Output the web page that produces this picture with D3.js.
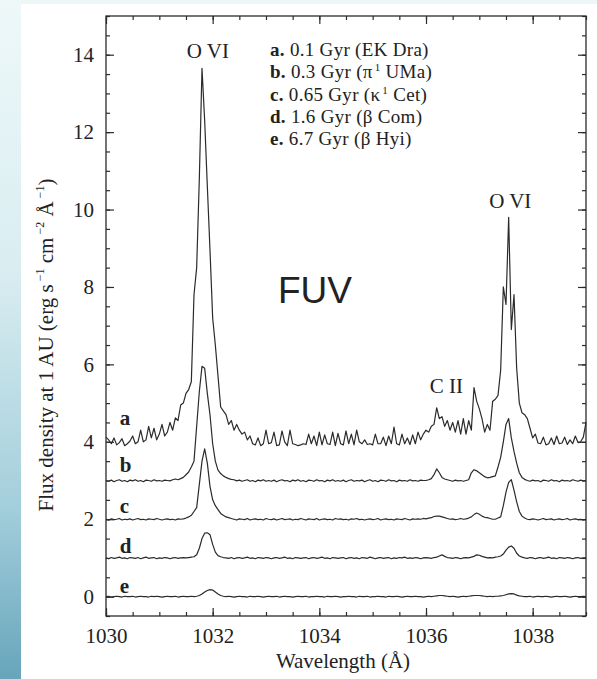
<!DOCTYPE html>
<html>
<head>
<meta charset="utf-8">
<script src="https://cdn.jsdelivr.net/npm/d3@7"></script>
<style>
  body { margin: 0; background: #fff; }
  svg { display: block; }
</style>
</head>
<body>
<div id="chart"></div>
<script>
const W = 597, H = 679;
const margin = {top: 16, right: 11, bottom: 63, left: 106},
      width = W - margin.left - margin.right,
      height = H - margin.top - margin.bottom;

const serif = '"Liberation Serif", "Times New Roman", serif';
const ink = "#2b2b2b";

// spectra sampled every 0.05 A from 1030.00 to 1039.00 (offsets already included)
const waveStart = 1030, waveStep = 0.05;

const specA = [
  4.12, 4.05, 3.95, 4.1, 3.92, 3.98, 4.08, 3.9, 3.95, 4.02,
  4.15, 3.95, 4.0, 4.3, 4.0, 4.05, 4.4, 4.1, 4.35, 4.05,
  4.2, 4.45, 4.15, 4.25, 4.5, 4.3, 4.62, 4.55, 4.95, 5.0,
  5.25, 5.35, 5.55, 7.8, 8.5, 10.8, 13.65, 12.3, 10.6, 8.95,
  7.2, 6.5, 5.7, 4.9, 4.8, 4.7, 4.45, 4.55, 4.3, 4.45,
  4.3, 4.2, 4.25, 4.05, 4.15, 3.95, 3.92, 4.1, 3.9, 3.95,
  4.3, 3.95, 3.98, 4.25, 3.9, 3.92, 4.28, 4.0, 3.9, 4.3,
  3.95, 3.93, 3.9, 3.92, 3.95, 3.93, 4.2, 3.95, 4.15, 3.9,
  4.25, 3.92, 4.18, 3.95, 3.93, 4.25, 3.9, 4.22, 3.95, 3.92,
  4.28, 3.95, 4.2, 3.92, 4.3, 4.0, 3.95, 4.05, 3.93, 3.95,
  3.92, 4.2, 3.95, 3.95, 4.12, 3.9, 4.15, 3.95, 4.38, 3.95,
  3.92, 4.2, 3.95, 4.1, 3.93, 4.18, 3.95, 4.25, 4.05, 4.2,
  4.3, 4.25, 4.4, 4.45, 4.88, 4.6, 4.65, 4.4, 4.55, 4.3,
  4.5, 4.25, 4.55, 4.2, 4.6, 4.2, 4.55, 4.3, 5.4, 5.05,
  4.85, 4.6, 4.25, 4.45, 4.3, 5.05, 5.1, 5.2, 5.85, 8.0,
  7.55, 9.8, 6.9, 7.8, 5.9, 5.0, 4.75, 4.7, 4.6, 4.35,
  4.1, 4.2, 3.97, 3.95, 4.12, 3.92, 3.95, 4.1, 3.93, 4.15,
  3.95, 3.97, 4.12, 3.93, 4.05, 3.95, 4.15, 3.98, 4.0, 4.12,
  4.5
];

const specB = [
  3.0, 2.98, 3.01, 2.97, 3.0, 3.02, 2.98, 3.0, 2.97, 3.01,
  2.99, 3.02, 2.98, 3.0, 2.97, 3.01, 3.0, 2.98, 3.02, 2.99,
  3.0, 2.98, 3.01, 3.0, 2.99, 3.02, 3.04, 3.02, 3.05,
  3.08, 3.15, 3.22, 3.35, 3.5, 4.4, 5.3, 5.95, 5.9, 5.25,
  4.7, 3.95, 3.5, 3.27, 3.18, 3.12, 3.08, 3.05, 3.03, 3.02,
  2.99, 3.01, 2.98, 3.0, 3.02, 2.98, 3.0, 2.97, 3.01, 2.99,
  3.02, 2.98, 3.0, 2.98, 3.01, 2.97, 3.0, 3.02, 2.99, 3.0,
  2.97, 3.01, 2.99, 3.02, 2.98, 3.0, 2.97, 3.01, 3.0, 2.98,
  3.02, 2.99, 3.0, 2.97, 3.01, 2.99, 3.02, 2.98, 3.0, 2.98,
  3.01, 2.97, 3.0, 3.02, 2.98, 3.0, 2.99, 3.01, 2.97, 3.0,
  3.02, 2.98, 3.0, 2.97, 3.01, 3.0, 2.98, 3.02, 2.99, 3.0,
  2.97, 3.01, 2.99, 3.0, 2.98, 3.02, 2.99, 3.0, 2.98, 3.01, 3.0,
  3.0, 3.02, 3.05, 3.15, 3.3, 3.2, 3.08, 3.04, 3.02, 3.0,
  2.98, 3.01, 2.99, 3.0, 2.98, 3.0, 3.02,
  3.2, 3.28, 3.25, 3.2, 3.15, 3.1, 3.07, 3.08, 3.1, 3.12,
  3.35, 3.6, 4.0, 4.45, 4.6, 4.1, 3.75, 3.45, 3.2, 3.08, 3.03,
  3.0, 2.98, 3.01, 2.99, 3.0, 2.97, 3.01, 3.0, 2.98, 3.02,
  2.99, 3.0, 2.97, 3.01, 2.99, 3.0, 2.98, 3.02, 3.0, 2.98,
  3.01, 2.99, 3.0
];

const specC = [
  2.0, 1.98, 2.01, 1.99, 2.0, 2.02, 1.98, 2.0, 1.99, 2.01,
  1.98, 2.0, 2.02, 1.99, 2.0, 1.98, 2.01, 2.0, 1.99, 2.02,
  2.0, 1.98, 2.0, 2.01, 1.99, 2.0, 1.98, 2.01, 2.0, 2.01,
  2.03, 2.06, 2.1, 2.2, 2.3, 2.9, 3.5, 3.82, 3.45, 2.85,
  2.5, 2.35, 2.25, 2.15, 2.1, 2.06, 2.04, 2.02,
  2.0, 1.98, 2.01, 2.0, 1.99, 2.02, 1.98, 2.0, 2.01, 1.99,
  2.0, 1.98, 2.02, 2.0, 1.99, 2.01, 1.98, 2.0, 2.02, 1.99,
  2.0, 2.01, 1.98, 2.0, 1.99, 2.02, 2.0, 1.98, 2.01, 2.0,
  1.99, 2.02, 1.98, 2.0, 2.01, 1.99, 2.0, 1.98, 2.02, 2.0,
  2.01, 1.99, 2.0, 1.98, 2.01, 2.0, 2.02, 1.99, 2.0, 1.98,
  2.0, 2.01, 1.99, 2.0, 2.02, 1.98, 2.0, 2.01, 1.99, 2.0,
  1.98, 2.01, 2.0, 1.99, 2.02, 2.0, 1.98, 2.01, 2.0, 2.01,
  2.0, 2.02, 2.01, 2.03,
  2.04, 2.07, 2.08, 2.08, 2.06, 2.04, 2.02,
  2.0, 2.01, 1.99, 2.0, 2.02, 2.0, 2.01, 2.03,
  2.06, 2.12, 2.16, 2.13, 2.08, 2.05, 2.04, 2.02, 2.0, 2.0, 2.03,
  2.06, 2.35, 2.7, 2.95, 3.02, 2.75, 2.45, 2.2, 2.08, 2.03,
  2.0, 1.99, 2.01, 2.0, 1.98, 2.0, 2.02, 1.99, 2.0, 2.01,
  1.98, 2.0, 2.01, 1.99, 2.0, 2.02, 1.98, 2.0, 2.01, 1.99,
  2.0, 1.98, 2.0
];

const specD = [
  1.0, 0.98, 1.01, 0.99, 1.0, 1.02, 0.99, 1.0, 0.98, 1.01,
  1.0, 0.99, 1.01, 0.98, 1.0, 1.02, 0.99, 1.0, 1.01, 0.98,
  1.0, 0.99, 1.01, 1.0, 0.98, 1.0, 1.01, 0.99, 1.0, 1.01,
  1.0, 1.01, 1.02,
  1.03, 1.08, 1.25, 1.5, 1.64, 1.65, 1.6, 1.35, 1.15, 1.06, 1.03, 1.01,
  1.0, 0.99, 1.01, 0.98, 1.0, 1.01, 0.99, 1.0, 1.02, 0.99,
  1.0, 0.98, 1.01, 1.0, 0.99, 1.01, 1.0, 0.98, 1.0, 1.01,
  0.99, 1.0, 1.02, 0.99, 1.0, 0.98, 1.01, 1.0, 0.99, 1.0,
  1.01, 0.98, 1.0, 1.01, 0.99, 1.0, 1.02, 0.99, 1.0, 0.98,
  1.01, 1.0, 0.99, 1.0, 1.01, 0.98, 1.0, 1.01, 0.99, 1.0,
  0.98, 1.01, 1.0, 0.99, 1.02, 1.0, 0.98, 1.0, 1.01, 0.99,
  1.0, 1.01, 0.98, 1.0, 0.99, 1.01, 1.0, 1.02, 0.99, 1.0,
  0.99, 1.01, 1.0, 0.98, 1.0, 1.01, 1.0, 0.99, 1.01, 1.02,
  1.05, 1.08, 1.04,
  1.01, 1.0, 0.99, 1.01, 1.0, 0.98, 1.0, 1.01, 1.0, 1.02,
  1.04, 1.08, 1.07, 1.04,
  1.02, 1.0, 1.01, 1.0, 1.02, 1.03,
  1.05, 1.1, 1.2, 1.28, 1.31, 1.25, 1.12, 1.05, 1.02,
  1.0, 0.99, 1.01, 1.0, 0.98, 1.0, 1.01, 0.99, 1.0, 1.02,
  0.99, 1.0, 0.98, 1.01, 1.0, 0.99, 1.01, 1.0, 0.98, 1.0,
  1.01, 0.99, 1.0, 1.0
];

const specE = [
  0.0, 0.01, -0.01, 0.0, 0.01, 0.0, -0.01, 0.01, 0.0, 0.0,
  0.01, -0.01, 0.0, 0.01, 0.0, 0.0, -0.01, 0.01, 0.0, 0.01,
  0.0, -0.01, 0.0, 0.01, 0.0, 0.0, 0.01, -0.01, 0.0, 0.01,
  0.0, 0.0, 0.01, 0.0,
  0.01, 0.03, 0.07, 0.12, 0.16, 0.18, 0.17, 0.12, 0.07, 0.03, 0.01,
  0.0, 0.01, 0.0, -0.01, 0.0, 0.01, 0.0, 0.0, -0.01, 0.01,
  0.0, 0.0, 0.01, 0.0, -0.01, 0.0, 0.01, 0.0, 0.0, 0.01,
  -0.01, 0.0, 0.01, 0.0, 0.0, -0.01, 0.0, 0.01, 0.0, 0.0,
  0.01, -0.01, 0.0, 0.0, 0.01, 0.0, 0.0, -0.01, 0.01, 0.0,
  0.0, 0.01, 0.0, -0.01, 0.0, 0.0, 0.01, 0.0, 0.0, -0.01,
  0.01, 0.0, 0.0, 0.01, -0.01, 0.0, 0.0, 0.01, 0.0, 0.0,
  -0.01, 0.01, 0.0, 0.0, 0.01, 0.0, -0.01, 0.0, 0.01, 0.0,
  0.0, 0.01, 0.0, 0.0, -0.01, 0.0, 0.01, 0.0, 0.01, 0.02,
  0.03, 0.03, 0.02, 0.01,
  0.0, 0.01, 0.0, -0.01, 0.0, 0.01, 0.0, 0.01, 0.02,
  0.03, 0.03, 0.03, 0.02, 0.01,
  0.0, 0.01, 0.0, 0.01, 0.01, 0.02,
  0.03, 0.05, 0.07, 0.08, 0.07, 0.04, 0.02,
  0.01, 0.0, 0.0, 0.01, -0.01, 0.0, 0.01, 0.0, 0.0, 0.01,
  0.0, -0.01, 0.0, 0.01, 0.0, 0.0, 0.01, 0.0, -0.01, 0.0,
  0.01, 0.0, 0.0, 0.01, 0.0
];

const spectra = [specA, specB, specC, specD, specE];
const specNames = ["a", "b", "c", "d", "e"];
const specLabelAt = [4.43, 3.22, 2.16, 1.13, 0.1];   // flux where the letter sits

const legendKeys = ["a.", "b.", "c.", "d.", "e."];
const legendAges = ["0.1 Gyr", "0.3 Gyr", "0.65 Gyr", "1.6 Gyr", "6.7 Gyr"];
const legendStars = [["EK Dra"], ["\u03c0", "1", " UMa"], ["\u03ba", "1", " Cet"], ["\u03b2 Com"], ["\u03b2 Hyi"]];

const lineIds = ["O VI", "O VI", "C II"];
const lineIdWave = [1031.91, 1037.58, 1036.38];
const lineIdFlux = [13.92, 10.05, 5.25];

const xMajor = [1030, 1032, 1034, 1036, 1038];
const yMajor = [0, 2, 4, 6, 8, 10, 12, 14];

// page
const page = d3.select("#chart").append("svg")
  .attr("width", W)
  .attr("height", H);

const grad = page.append("defs").append("linearGradient")
  .attr("id", "side")
  .attr("x1", 0).attr("y1", 0).attr("x2", 0).attr("y2", 1);
grad.append("stop").attr("offset", "0%").attr("stop-color", "#eef8f9");
grad.append("stop").attr("offset", "40%").attr("stop-color", "#d9edf1");
grad.append("stop").attr("offset", "75%").attr("stop-color", "#a3cedb");
grad.append("stop").attr("offset", "100%").attr("stop-color", "#67a5bb");

page.append("rect").attr("width", W).attr("height", H).attr("fill", "#eef7f8");
page.append("rect").attr("width", 21).attr("height", H).attr("fill", "url(#side)");
page.append("rect").attr("x", 21).attr("y", 4).attr("width", W - 21).attr("height", H - 4).attr("fill", "#fff");

const svg = page.append("g")
  .attr("transform", `translate(${margin.left},${margin.top})`);

const x = d3.scaleLinear().domain([1030, 1039]).range([0, width]);
const y = d3.scaleLinear().domain([-0.5, 15]).range([height, 0]);

const xMinor = d3.range(1030, 1039.001, 0.5);
const yMinor = d3.range(-0.5, 15.001, 0.5);

function styleAxis(g) {
  g.select(".domain").remove();
  g.selectAll(".tick line").attr("stroke", ink).attr("stroke-width", 1.2);
  g.selectAll("text")
    .attr("fill", "#222")
    .style("font-family", serif)
    .style("font-size", "21px");
}

// bottom / top
svg.append("g").attr("transform", `translate(0,${height})`)
  .call(d3.axisBottom(x).tickValues(xMinor).tickSize(-4).tickFormat(""))
  .call(styleAxis);
svg.append("g").attr("transform", `translate(0,${height})`)
  .call(d3.axisBottom(x).tickValues(xMajor).tickSize(-8).tickPadding(12).tickFormat(d3.format("d")))
  .call(styleAxis);
svg.append("g")
  .call(d3.axisTop(x).tickValues(xMinor).tickSize(-4).tickFormat(""))
  .call(styleAxis);
svg.append("g")
  .call(d3.axisTop(x).tickValues(xMajor).tickSize(-8).tickFormat(""))
  .call(styleAxis);

// left / right
svg.append("g")
  .call(d3.axisLeft(y).tickValues(yMinor).tickSize(-4).tickFormat(""))
  .call(styleAxis);
svg.append("g")
  .call(d3.axisLeft(y).tickValues(yMajor).tickSize(-8).tickPadding(12))
  .call(styleAxis);
svg.append("g").attr("transform", `translate(${width},0)`)
  .call(d3.axisRight(y).tickValues(yMinor).tickSize(-4).tickFormat(""))
  .call(styleAxis);
svg.append("g").attr("transform", `translate(${width},0)`)
  .call(d3.axisRight(y).tickValues(yMajor).tickSize(-8).tickFormat(""))
  .call(styleAxis);

svg.append("rect")
  .attr("width", width)
  .attr("height", height)
  .attr("fill", "none")
  .attr("stroke", ink)
  .attr("stroke-width", 1.3);

// spectra
const line = d3.line()
  .x((d, i) => x(waveStart + i * waveStep))
  .y((d) => y(d));

svg.selectAll("path.spec")
  .data(spectra)
  .join("path")
  .attr("class", "spec")
  .attr("d", line)
  .attr("fill", "none")
  .attr("stroke", ink)
  .attr("stroke-width", 1.2)
  .attr("stroke-linejoin", "round");

svg.selectAll("text.specName")
  .data(specNames)
  .join("text")
  .attr("class", "specName")
  .attr("x", x(1030.26))
  .attr("y", (d, i) => y(specLabelAt[i]))
  .style("font-family", serif)
  .style("font-size", "21px")
  .style("font-weight", "bold")
  .attr("fill", "#222")
  .text((d) => d);

// line identifications
svg.selectAll("text.lineId")
  .data(lineIds)
  .join("text")
  .attr("class", "lineId")
  .attr("x", (d, i) => x(lineIdWave[i]))
  .attr("y", (d, i) => y(lineIdFlux[i]))
  .attr("text-anchor", "middle")
  .style("font-family", serif)
  .style("font-size", "21px")
  .attr("fill", "#222")
  .text((d) => d);

// legend
const legend = svg.append("g")
  .attr("transform", `translate(${270 - margin.left},${56 - margin.top})`);
legendKeys.forEach((k, i) => {
  const t = legend.append("text")
    .attr("y", i * 22.3)
    .style("font-family", serif)
    .style("font-size", "19px")
    .style("letter-spacing", "0.3px")
    .attr("fill", "#222");
  t.append("tspan").style("font-weight", "bold").text(k);
  t.append("tspan").text(` ${legendAges[i]} (`);
  const parts = legendStars[i];
  if (parts.length === 1) {
    t.append("tspan").text(parts[0] + ")");
  } else {
    t.append("tspan").text(parts[0]);
    t.append("tspan").attr("dy", -7).attr("dx", 2).style("font-size", "11px").text(parts[1]);
    t.append("tspan").attr("dy", 7).text(parts[2] + ")");
  }
});

// axis titles
svg.append("text")
  .attr("x", width / 2 - 3)
  .attr("y", height + 52)
  .attr("text-anchor", "middle")
  .style("font-family", serif)
  .style("font-size", "21px")
  .attr("fill", "#222")
  .text("Wavelength (\u00c5)");

const yt = svg.append("text")
  .attr("transform", `translate(${53 - margin.left},${345 - margin.top}) rotate(-90)`)
  .attr("text-anchor", "middle")
  .style("font-family", serif)
  .style("font-size", "21px")
  .attr("fill", "#222");
yt.append("tspan").text("Flux density at 1 AU (erg s");
yt.append("tspan").attr("dx", 3).attr("dy", -9).style("font-size", "12px").text("\u22121");
yt.append("tspan").attr("dy", 9).text(" cm");
yt.append("tspan").attr("dx", 3).attr("dy", -9).style("font-size", "12px").text("\u22122");
yt.append("tspan").attr("dy", 9).text(" \u00c5");
yt.append("tspan").attr("dx", 3).attr("dy", -9).style("font-size", "12px").text("\u22121");
yt.append("tspan").attr("dy", 9).text(")");

// slide caption
page.append("text")
  .attr("x", 278)
  .attr("y", 303)
  .style("font-family", '"Liberation Sans", Arial, sans-serif')
  .style("font-size", "37px")
  .attr("fill", "#222")
  .text("FUV");
</script>
</body>
</html>
